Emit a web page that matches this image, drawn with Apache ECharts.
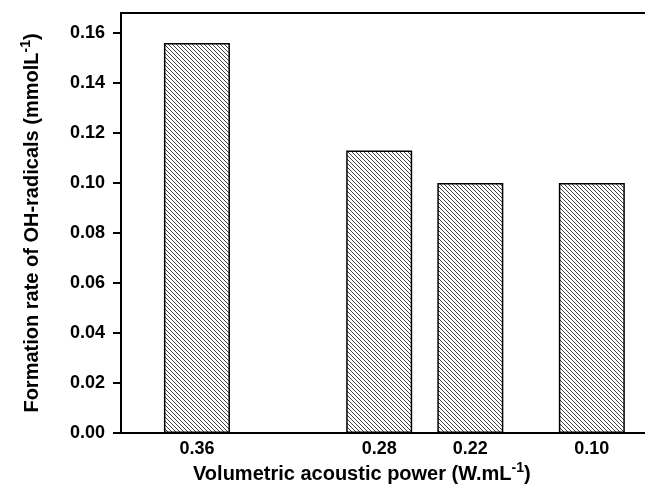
<!DOCTYPE html>
<html>
<head>
<meta charset="utf-8">
<script src="https://cdn.jsdelivr.net/npm/echarts@6/dist/echarts.min.js"></script>
<style>
html,body{margin:0;padding:0;background:#fff;}
#chart{width:645px;height:487px;}
</style>
</head>
<body>
<div id="chart"></div>
<script>
// Data
const categories = ['0.36', '0.28', '0.22', '0.10'];      // volumetric acoustic power (W.mL-1)
const slotPositions = [0, 6, 9, 13];                       // where each bar sits along the x axis
const rates = [0.156, 0.113, 0.100, 0.100];                // formation rate of OH-radicals (mmolL-1)
const yTicks = [0, 0.02, 0.04, 0.06, 0.08, 0.10, 0.12, 0.14, 0.16];

// Hatch pattern
const pat = document.createElement('canvas');
pat.width = 4; pat.height = 4;
const pc = pat.getContext('2d');
pc.fillStyle = '#ffffff'; pc.fillRect(0, 0, 4, 4);
pc.fillStyle = '#444444';
for (let i = 0; i < 4; i++) pc.fillRect(i, i, 1, 1);

const chart = echarts.init(document.getElementById('chart'), null, {renderer: 'canvas'});
const font = '"Liberation Sans", Arial, sans-serif';

chart.setOption({
  animation: false,
  backgroundColor: '#fff',
  grid: {left: 121, right: 0, top: 13, bottom: 54, containLabel: false},
  xAxis: [{
    type: 'value',
    min: -2.5, max: 14.75,
    axisLine: {show: true, onZero: false, lineStyle: {color: '#000', width: 2}},
    axisTick: {show: false},
    splitLine: {show: false},
    axisLabel: {
      customValues: slotPositions,
      margin: 7,
      fontFamily: font, fontSize: 18, fontWeight: 'bold', color: '#000',
      formatter: v => { const k = slotPositions.indexOf(v); return k >= 0 ? categories[k] : ''; }
    }
  }, {
    type: 'value', position: 'top',
    min: -2.5, max: 14.75,
    axisLine: {show: true, onZero: false, lineStyle: {color: '#000', width: 2}},
    axisTick: {show: false}, axisLabel: {show: false}, splitLine: {show: false}
  }],
  yAxis: {
    type: 'value',
    min: 0, max: 0.168,
    name: '{t|Formation rate of OH-radicals (mmolL}{s|-1}{t|)}',
    nameLocation: 'middle',
    nameGap: 76,
    nameTextStyle: {
      rich: {
        t: {fontFamily: font, fontSize: 20, fontWeight: 'bold', color: '#000'},
        s: {fontFamily: font, fontSize: 14, fontWeight: 'bold', color: '#000', verticalAlign: 'top', padding: [0, 0, 12, 0]}
      }
    },
    axisLine: {show: true, onZero: false, lineStyle: {color: '#000', width: 2}},
    axisTick: {show: true, customValues: yTicks, length: 8, inside: false, lineStyle: {color: '#000', width: 2}},
    splitLine: {show: false},
    axisLabel: {
      customValues: yTicks,
      margin: 16,
      fontFamily: font, fontSize: 18, fontWeight: 'bold', color: '#000',
      formatter: v => v.toFixed(2)
    }
  },
  series: [{
    type: 'bar',
    xAxisIndex: 0,
    barWidth: 66,
    data: slotPositions.map((p, i) => [p, rates[i]]),
    itemStyle: {
      color: {image: pat, repeat: 'repeat'},
      borderColor: '#000',
      borderWidth: 1.5
    }
  }],
  graphic: [{
    type: 'text',
    left: 193, top: 461,
    style: {
      text: '{t|Volumetric acoustic power (W.mL}{s|-1}{t|)}',
      rich: {
        t: {fontFamily: font, fontSize: 20, fontWeight: 'bold', fill: '#000'},
        s: {fontFamily: font, fontSize: 14, fontWeight: 'bold', fill: '#000', verticalAlign: 'top', padding: [0, 0, 12, 0]}
      }
    }
  }]
});
</script>
</body>
</html>
